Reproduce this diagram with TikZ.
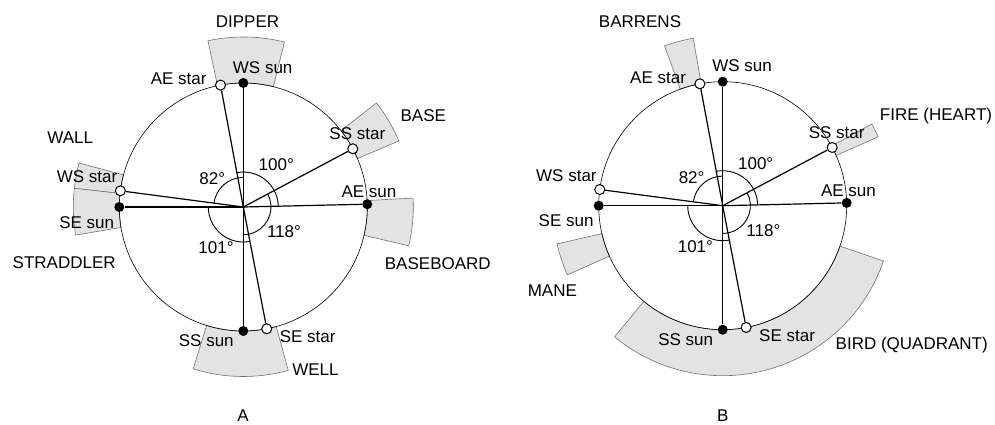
\documentclass[tikz,border=0pt]{standalone}
\usepackage{fontspec}
\setmainfont{Liberation Sans}
\newcommand\annsec[3]{%
  \filldraw[sector] (#1:124) arc[start angle=#1, end angle=#2, radius=124]
    -- (#2:#3) arc[start angle=#2, end angle=#1, radius=#3] -- cycle;}
\newcommand\commonparts[1]{%
  \coordinate (#1-c) at (0,0);
  \draw[rim] (#1-c) circle[radius=124];
  \node[sundot]  (#1-wssun)  at (90:124) {};
  \node[stardot] (#1-aestar) at (100.6:124) {};
  \node[stardot] (#1-ssstar) at (28:124) {};
  \node[sundot]  (#1-aesun)  at (1.3:124) {};
  \node[stardot] (#1-wsstar) at (172.5:124) {};
  \node[sundot]  (#1-sesun)  at (180:124) {};
  \node[sundot]  (#1-sssun)  at (270:124) {};
  \node[stardot] (#1-sestar) at (280.9:124) {};
  \foreach \p in {wssun,aestar,ssstar,aesun,wsstar,sesun,sssun,sestar}
    \draw[ray] (#1-c) -- (#1-\p);
  \draw[ang] (172.5:29.6) arc[start angle=172.5, end angle=90, radius=29.6];
  \draw[ang] (100.6:35) arc[start angle=100.6, end angle=1.3, radius=35];
  \draw[ang] (28:27.7) arc[start angle=28, end angle=-90, radius=27.7];
  \draw[ang] (180:35) arc[start angle=180, end angle=280.9, radius=35];
  \node[lbl] (#1-lwssun)  at (19.4,133.7)  {WS sun};
  \node[lbl] (#1-laestar) at (-64.6,122)   {AE star};
  \node[lbl] (#1-lssstar) at (114,67)      {SS star};
  \node[lbl] (#1-laesun)  at (125.7,9.5)   {AE sun};
  \node[lbl] (#1-lwsstar) at (-156.3,24.3) {WS star};
  \node[lbl] (#1-lsesun)  at (-156.6,-21.3) {SE sun};
  \node[lbl] (#1-lsssun)  at (-37,-140)    {SS sun};
  \node[lbl] (#1-lsestar) at (64.4,-135.7) {SE star};
  \node[lbl] (#1-d100) at (33,36.3)    {100°};
  \node[lbl] (#1-d82)  at (-31.1,22)   {82°};
  \node[lbl] (#1-d101) at (-27.3,-47)  {101°};
  \node[lbl] (#1-d118) at (40.7,-30.7) {118°};
}
\begin{document}
\begin{tikzpicture}[x=1pt,y=1pt,
  lbl/.style={font=\fontsize{17}{20}\selectfont, inner sep=0pt, anchor=base},
  sector/.style={fill=black!11, draw=black!55, line width=0.6pt},
  rim/.style={line width=0.6pt},
  ray/.style={line width=1.2pt},
  ang/.style={line width=0.9pt},
  sundot/.style={circle, fill=black, minimum size=10pt, inner sep=0pt},
  stardot/.style={circle, fill=white, draw=black, line width=1pt, minimum size=10pt, inner sep=0pt}]
\useasboundingbox (0,0) rectangle (995,425);
% ---------- A ----------
\begin{scope}[shift={(243.3,218)}]
  \annsec{76}{102}{170}
  \annsec{23}{38}{169}
  \annsec{-13.2}{3}{170}
  \annsec{165}{173.7}{170}
  \annsec{173.7}{189.5}{170}
  \annsec{-107.2}{-74.6}{169.5}
  \commonparts{a}
  \node[lbl] (a-dipper)  at (4.2,179.7)   {DIPPER};
  \node[lbl] (a-base)    at (180,85)      {BASE};
  \node[lbl] (a-wall)    at (-173,63.7)   {WALL};
  \node[lbl] (a-strad)   at (-179.1,-61.3) {STRADDLER};
  \node[lbl] (a-bboard)  at (194.5,-63)   {BASEBOARD};
  \node[lbl] (a-well)    at (72.2,-169)   {WELL};
  \node[lbl] (a-title)   at (-0.3,-214.5) {A};
\end{scope}
% ---------- B ----------
\begin{scope}[shift={(722.7,219.3)}]
  \annsec{100}{110}{170}
  \annsec{23.9}{28.7}{170}
  \annsec{193}{204}{170}
  \annsec{230.5}{341}{170}
  \commonparts{b}
  \node[lbl] (b-barrens) at (-82.7,178.4)  {BARRENS};
  \node[lbl] (b-fire)    at (213.3,85)     {FIRE (HEART)};
  \node[lbl] (b-mane)    at (-170.4,-91)   {MANE};
  \node[lbl] (b-bird)    at (189,-143.6)   {BIRD (QUADRANT)};
  \node[lbl] (b-title)   at (0,-215.8)     {B};
\end{scope}
\end{tikzpicture}
\end{document}
